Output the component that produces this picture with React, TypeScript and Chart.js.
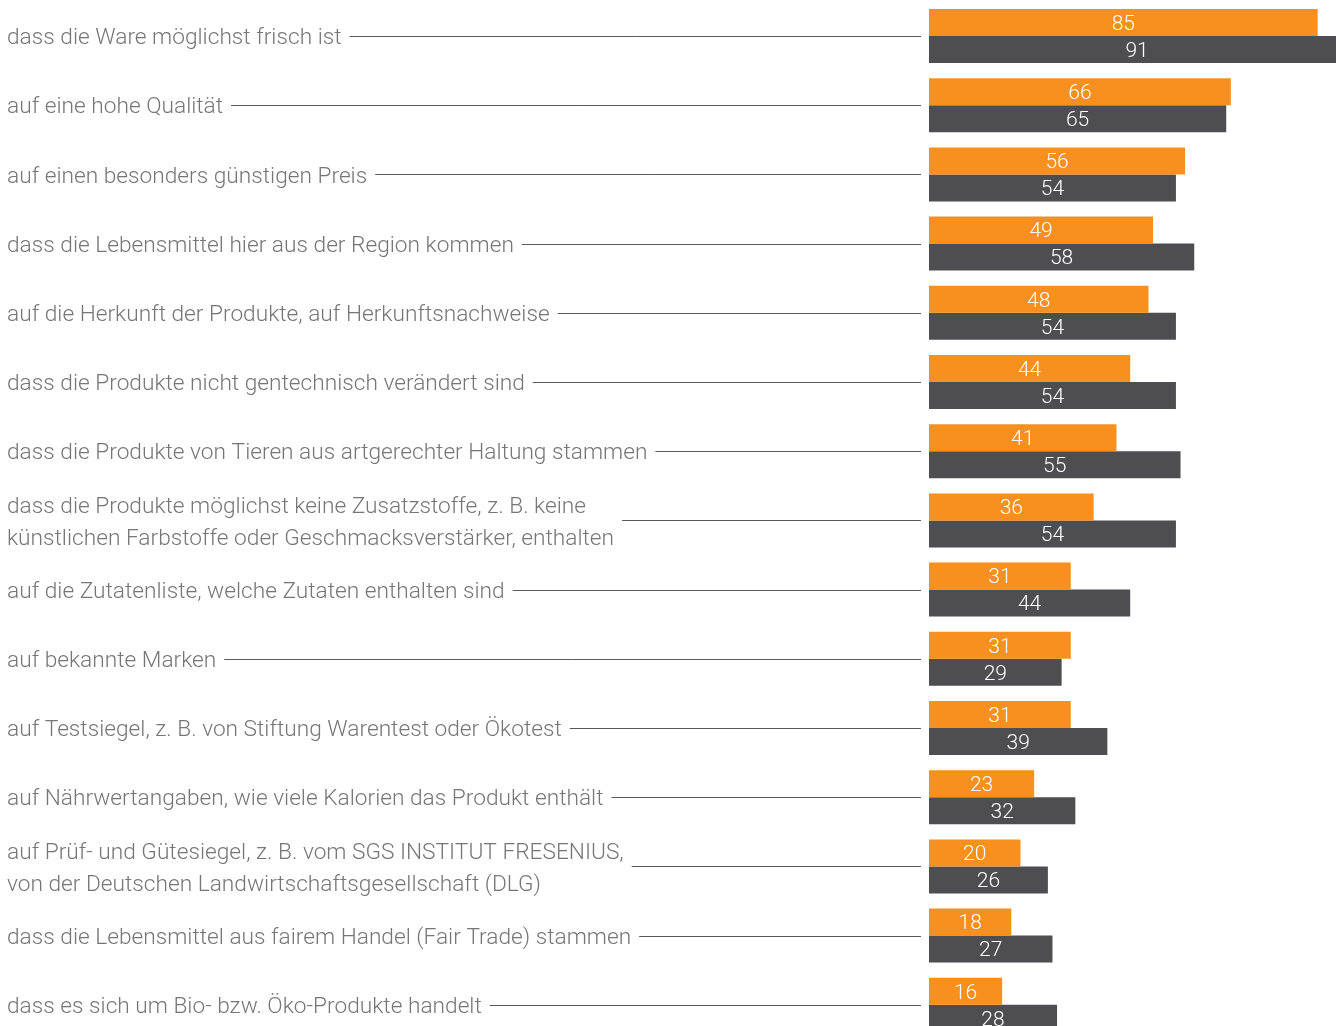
import React, { useEffect, useRef } from "react";
import { Chart, registerables } from "chart.js";

Chart.register(...registerables);

const categories: string[][] = [
  ["dass die Ware möglichst frisch ist"],
  ["auf eine hohe Qualität"],
  ["auf einen besonders günstigen Preis"],
  ["dass die Lebensmittel hier aus der Region kommen"],
  ["auf die Herkunft der Produkte, auf Herkunftsnachweise"],
  ["dass die Produkte nicht gentechnisch verändert sind"],
  ["dass die Produkte von Tieren aus artgerechter Haltung stammen"],
  ["dass die Produkte möglichst keine Zusatzstoffe, z. B. keine", "künstlichen Farbstoffe oder Geschmacksverstärker, enthalten"],
  ["auf die Zutatenliste, welche Zutaten enthalten sind"],
  ["auf bekannte Marken"],
  ["auf Testsiegel, z. B. von Stiftung Warentest oder Ökotest"],
  ["auf Nährwertangaben, wie viele Kalorien das Produkt enthält"],
  ["auf Prüf- und Gütesiegel, z. B. vom SGS INSTITUT FRESENIUS,", "von der Deutschen Landwirtschaftsgesellschaft (DLG)"],
  ["dass die Lebensmittel aus fairem Handel (Fair Trade) stammen"],
  ["dass es sich um Bio- bzw. Öko-Produkte handelt"],
];

const seriesOrange: number[] = [85, 66, 56, 49, 48, 44, 41, 36, 31, 31, 31, 23, 20, 18, 16];
const seriesGray: number[] = [91, 65, 54, 58, 54, 54, 55, 54, 44, 29, 39, 32, 26, 27, 28];

const ORANGE = "#F7901E";
const GRAY = "#4E4E50";
const FONT = "Roboto, 'Liberation Sans', sans-serif";

const labelPlugin = {
  id: "leftLabels",
  afterDraw(chart: any) {
    const ctx = chart.ctx;
    const yScale = chart.scales.y;
    const area = chart.chartArea;
    ctx.save();
    // value labels
    ctx.font = `300 21px ${FONT}`;
    ctx.fillStyle = "#ffffff";
    ctx.textAlign = "center";
    ctx.textBaseline = "middle";
    chart.data.datasets.forEach((ds: any, di: number) => {
      const meta = chart.getDatasetMeta(di);
      meta.data.forEach((bar: any, i: number) => {
        const cx = (bar.base + bar.x) / 2;
        ctx.fillText(String(ds.data[i]), cx, bar.y + 2);
      });
    });
    // category labels
    ctx.font = `300 22.7px ${FONT}`;
    ctx.textAlign = "left";
    const lineH = 32;
    categories.forEach((lines, i) => {
      const cy = yScale.getPixelForValue(i);
      let maxW = 0;
      lines.forEach((ln, k) => {
        const y = cy + (k - (lines.length - 1) / 2) * lineH + 2.5;
        ctx.fillStyle = "#767676";
        ctx.fillText(ln, 7, y);
        maxW = Math.max(maxW, ctx.measureText(ln).width);
      });
      ctx.strokeStyle = "#5a5a5a";
      ctx.lineWidth = 1;
      ctx.beginPath();
      const ly = Math.round(cy) + 0.5;
      ctx.moveTo(7 + maxW + 8, ly);
      ctx.lineTo(area.left - 8, ly);
      ctx.stroke();
    });
    ctx.restore();
  },
};

export default function App() {
  const ref = useRef<HTMLCanvasElement | null>(null);
  useEffect(() => {
    document.body.style.margin = "0";
    document.body.style.overflow = "hidden";
    const chart = new Chart(ref.current as HTMLCanvasElement, {
      type: "bar",
      data: {
        labels: categories.map((c) => c.join(" ")),
        datasets: [
          { data: seriesOrange, backgroundColor: ORANGE, borderWidth: 0, categoryPercentage: 0.78, barPercentage: 1 },
          { data: seriesGray, backgroundColor: GRAY, borderWidth: 0, categoryPercentage: 0.78, barPercentage: 1 },
        ],
      },
      options: {
        indexAxis: "y",
        responsive: false,
        animation: false,
        layout: { padding: { left: 929, right: 0, top: 1.4, bottom: 0.6 } },
        plugins: { legend: { display: false }, tooltip: { enabled: false } },
        scales: {
          x: { display: false, min: 0, max: 89, grid: { display: false } },
          y: { display: false, grid: { display: false } },
        },
      },
      plugins: [labelPlugin],
    });
    return () => chart.destroy();
  }, []);
  return (
    <div style={{ position: "absolute", left: 0, top: 0, width: 1336, height: 1026, overflow: "hidden" }}>
      <canvas ref={ref} width={1336} height={1040} style={{ display: "block", width: 1336, height: 1040 }} />
    </div>
  );
}
